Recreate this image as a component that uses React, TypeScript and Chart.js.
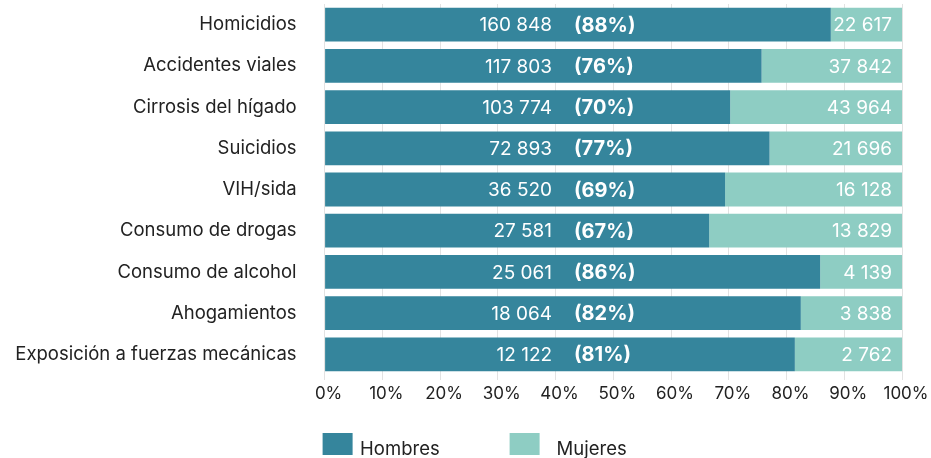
import React, { useEffect, useRef } from 'react';
import { Chart, registerables } from 'chart.js';

Chart.register(...registerables);

const categories = [
  'Homicidios',
  'Accidentes viales',
  'Cirrosis del hígado',
  'Suicidios',
  'VIH/sida',
  'Consumo de drogas',
  'Consumo de alcohol',
  'Ahogamientos',
  'Exposición a fuerzas mecánicas',
];
const hombres = [160848, 117803, 103774, 72893, 36520, 27581, 25061, 18064, 12122];
const mujeres = [22617, 37842, 43964, 21696, 16128, 13829, 4139, 3838, 2762];
const pctHombres = [88, 76, 70, 77, 69, 67, 86, 82, 81];
const xTickValues = [0, 10, 20, 30, 40, 50, 60, 70, 80, 90, 100];
const seriesNames = ['Hombres', 'Mujeres'];

const DARK = '#35859c';
const LIGHT = '#8ecdc3';
const FONT = 'Inter, Lato, sans-serif';

const shareH = hombres.map((h, i) => (h / (h + mujeres[i])) * 100);
const shareM = mujeres.map((m, i) => (m / (hombres[i] + m)) * 100);

const fmt = (n: number) => String(n).replace(/\B(?=(\d{3})+(?!\d))/g, ' ');

const labelPlugin = {
  id: 'valueLabels',
  afterDatasetsDraw(chart: any) {
    const ctx = chart.ctx;
    const xs = chart.scales.x;
    const meta = chart.getDatasetMeta(0);
    ctx.save();
    ctx.fillStyle = '#ffffff';
    ctx.textBaseline = 'middle';
    meta.data.forEach((bar: any, i: number) => {
      const y = bar.y + 1;
      ctx.font = `19px ${FONT}`;
      ctx.textAlign = 'right';
      ctx.fillText(fmt(hombres[i]), xs.getPixelForValue(39.4), y);
      ctx.fillText(fmt(mujeres[i]), xs.right - 10, y);
      ctx.font = `bold 20px ${FONT}`;
      ctx.textAlign = 'left';
      ctx.fillText(`(${pctHombres[i]}%)`, xs.getPixelForValue(43.2), y);
    });
    ctx.restore();
  },
};

const legendPlugin = {
  id: 'customLegend',
  afterDraw(chart: any) {
    const ctx = chart.ctx;
    const area = chart.chartArea;
    const boxTop = area.bottom + 58;
    const items = [
      { x: area.left - 2, color: DARK, textDx: 37.5 },
      { x: area.left + 185, color: LIGHT, textDx: 47 },
    ];
    ctx.save();
    ctx.font = `18.5px ${FONT}`;
    ctx.textBaseline = 'alphabetic';
    ctx.textAlign = 'left';
    items.forEach((it, i) => {
      ctx.fillStyle = it.color;
      ctx.fillRect(it.x, boxTop, 30, 22);
      ctx.fillStyle = '#222222';
      ctx.fillText(seriesNames[i], it.x + it.textDx, boxTop + 22);
    });
    ctx.restore();
  },
};

export default function App() {
  const ref = useRef<HTMLCanvasElement | null>(null);

  useEffect(() => {
    document.body.style.margin = '0';
    if (!ref.current) return;
    const chart = new Chart(ref.current, {
      type: 'bar',
      data: {
        labels: categories,
        datasets: [
          {
            label: seriesNames[0],
            data: shareH,
            backgroundColor: DARK,
            borderWidth: 0,
            barPercentage: 0.82,
            categoryPercentage: 1,
          },
          {
            label: seriesNames[1],
            data: shareM,
            backgroundColor: LIGHT,
            borderWidth: 0,
            barPercentage: 0.82,
            categoryPercentage: 1,
          },
        ],
      },
      options: {
        indexAxis: 'y',
        responsive: false,
        animation: false,
        devicePixelRatio: 1,
        layout: { padding: { left: 0, right: 29, top: 4, bottom: 0 } },
        plugins: {
          legend: { display: false },
          tooltip: { enabled: false },
        },
        scales: {
          x: {
            stacked: true,
            min: 0,
            max: 100,
            afterBuildTicks(scale: any) {
              scale.ticks = xTickValues.map((v) => ({ value: v }));
            },
            afterFit(scale: any) {
              scale.height = 83;
            },
            grid: {
              color: '#e2e2e2',
              lineWidth: 1,
              tickLength: 5,
              drawTicks: true,
            },
            border: { display: false },
            ticks: {
              padding: 4,
              labelOffset: 4,
              color: '#222222',
              font: { family: FONT, size: 17 },
              callback: (v: any) => `${v}%`,
              maxRotation: 0,
              autoSkip: false,
            },
          },
          y: {
            stacked: true,
            afterFit(scale: any) {
              scale.width = 324.6;
              scale.paddingTop = 0;
              scale.paddingBottom = 0;
            },
            grid: { display: false, drawTicks: false },
            border: { display: false },
            ticks: {
              padding: 28,
              color: '#222222',
              font: { family: FONT, size: 18.5 },
              autoSkip: false,
            },
          },
        },
      },
      plugins: [labelPlugin, legendPlugin],
    });
    return () => chart.destroy();
  }, []);

  return (
    <div style={{ width: 931, height: 458 }}>
      <canvas ref={ref} width={931} height={458} style={{ display: 'block' }} />
    </div>
  );
}
